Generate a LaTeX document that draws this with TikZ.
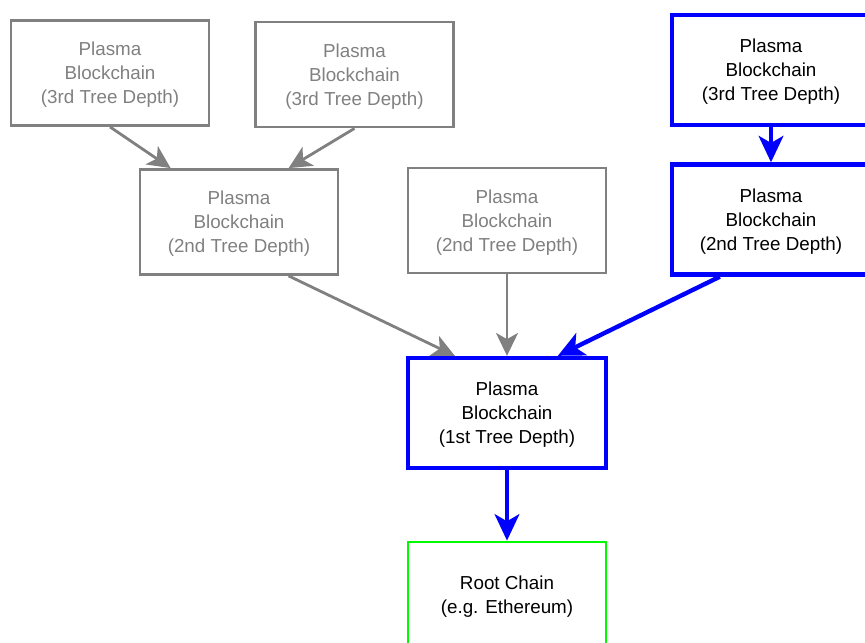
\documentclass[tikz,border=0pt]{standalone}
\usepackage{fontspec}
\setmainfont{Liberation Sans}
\usepackage{xcolor}
\usetikzlibrary{arrows.meta,positioning,calc}
\definecolor{chaingray}{RGB}{128,128,128}
\definecolor{chainblue}{RGB}{0,0,255}
\definecolor{chaingreen}{RGB}{0,250,0}

\begin{document}
\begin{tikzpicture}[x=0.02cm, y=-0.02cm,
    chainbox/.style={draw, rectangle, align=center, minimum width=3.96cm, minimum height=2.1cm,
        font=\fontsize{10.7}{13.6}\selectfont},
    otherbox/.style={chainbox, chaingray, text=chaingray, line width=1.6pt, text depth=0pt},
    pathbox/.style={chainbox, chainblue, text=black, line width=2.5pt, minimum height=2.2cm, text depth=-1pt},
    rootbox/.style={chainbox, chaingreen, text=black, line width=1.6pt, minimum height=2.2cm},
    otherarrow/.style={chaingray, line width=1.6pt, -{Stealth[length=13pt,width=12.5pt,inset=3.5pt]}},
    patharrow/.style={chainblue, line width=2.5pt, -{Stealth[length=15pt,width=14pt,inset=4pt]}}]
    \clip (0,0) rectangle (865,642);

    % Third depth
    \node[otherbox] (g3a) at (110,73) {Plasma\\Blockchain\\(3rd Tree Depth)};
    \node[otherbox] (g3b) at (354.5,74.5) {Plasma\\Blockchain\\(3rd Tree Depth)};
    \node[pathbox] (b3) at (771,70) {Plasma\\Blockchain\\(3rd Tree Depth)};

    % Second depth
    \node[otherbox] (g2a) at (239,222) {Plasma\\Blockchain\\(2nd Tree Depth)};
    \node[otherbox] (g2b) at (507,220.5) {Plasma\\Blockchain\\(2nd Tree Depth)};
    \node[pathbox] (b2) at (771,219.5) {Plasma\\Blockchain\\(2nd Tree Depth)};

    % First depth and root
    \node[pathbox] (b1) at (507,413) {Plasma\\Blockchain\\(1st Tree Depth)};
    \node[rootbox] (root) at (507,597) {Root Chain\\(e.g. Ethereum)};

    % Arrows
    \draw[otherarrow] (g3a.south) -- ($(g2a.north west)+(32,0)$);
    \draw[otherarrow] (g3b.south) -- ($(g2a.north west)+(150,0)$);
    \draw[otherarrow] ($(g2a.south west)+(150,0)$) -- ($(b1.north west)+(49,0)$);
    \draw[otherarrow] (g2b.south) -- (b1.north);
    \draw[patharrow] (b3.south) -- (b2.north);
    \draw[patharrow] ($(b2.south west)+(50,0)$) -- ($(b1.north west)+(152,0)$);
    \draw[patharrow] (b1.south) -- (root.north);

\end{tikzpicture}
\end{document}
